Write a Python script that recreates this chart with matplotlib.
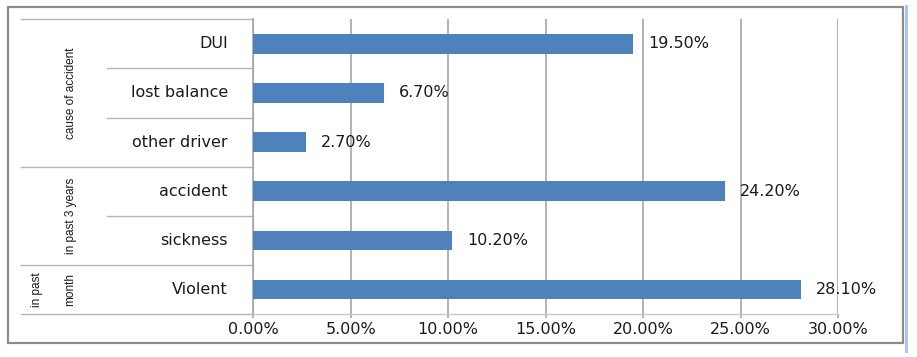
import matplotlib
matplotlib.use("Agg")
import matplotlib.pyplot as plt
from matplotlib.lines import Line2D
from matplotlib.patches import Rectangle
from matplotlib.transforms import blended_transform_factory

# ---- data ----
categories = ["DUI", "lost balance", "other driver", "accident", "sickness", "Violent"]
values = [19.5, 6.7, 2.7, 24.2, 10.2, 28.1]
groups = ["cause of accident", "in past 3 years", "in past\nmonth"]
group_sizes = [3, 2, 1]
xticks = [0, 5, 10, 15, 20, 25, 30]
xtick_labels = ["0.00%", "5.00%", "10.00%", "15.00%", "20.00%", "25.00%", "30.00%"]

W, H = 917, 357
fig = plt.figure(figsize=(W / 100, H / 100), dpi=100)
fig.patch.set_facecolor("white")

# plot area in pixels
x0, x1 = 253.3, 838.0
y_top, y_bot = 19.3, 314.0
ax = fig.add_axes([x0 / W, 1 - y_bot / H, (x1 - x0) / W, (y_bot - y_top) / H])

txt_color = "#1a1a1a"
grid_color = "#a6a6a6"
bar_color = "#4f81bd"
fs = 11.5

ypos = list(range(len(categories)))
ax.barh(ypos, values, height=0.4, color=bar_color, zorder=3)
ax.set_ylim(len(categories) - 0.5, -0.5)
ax.set_xlim(0, 30)
ax.set_xticks(xticks)
ax.set_xticklabels(xtick_labels, fontsize=fs, color=txt_color)
ax.set_yticks([])
ax.xaxis.grid(True, color=grid_color, linewidth=1.2, zorder=0)
ax.tick_params(axis="x", direction="out", length=3, color=grid_color, width=1.2, pad=3)
for s in ["top", "right"]:
    ax.spines[s].set_visible(False)
ax.spines["left"].set_color(grid_color)
ax.spines["left"].set_linewidth(1.2)
ax.spines["bottom"].set_color("#c8c8c8")
ax.spines["bottom"].set_linewidth(1.0)

# value labels
for yv, v in zip(ypos, values):
    ax.annotate(f"{v:.2f}%", xy=(v, yv), xytext=(11, 0), textcoords="offset points",
                va="center", ha="left", fontsize=fs, color=txt_color)

# category labels & multi-level axis
tr = blended_transform_factory(ax.transAxes, ax.transData)
axw = x1 - x0
def fx(px):
    return (px - x0) / axw

for yv, c in zip(ypos, categories):
    ax.text(fx(228), yv, c, transform=tr, ha="right", va="center",
            fontsize=fs, color=txt_color, clip_on=False)

line_kw = dict(color="#b4b4b4", linewidth=1.0, transform=tr, clip_on=False)
ax.add_line(Line2D([fx(21), 0], [-0.5, -0.5], **line_kw))
start = 0
for g, n in zip(groups, group_sizes):
    end = start + n
    # inner separators
    for k in range(start + 1, end):
        ax.add_line(Line2D([fx(107), 0], [k - 0.5, k - 0.5], **line_kw))
    ax.add_line(Line2D([fx(21), 0], [end - 0.5, end - 0.5], **line_kw))
    yc = (start + end - 1) / 2
    lines = g.split("\n")
    if len(lines) == 1:
        xs = [71]
    else:
        xs = [37, 70]
    for xl, t in zip(xs, lines):
        ax.text(fx(xl), yc, t, transform=tr, rotation=90, ha="center", va="center",
                fontsize=8.5, family=["Liberation Sans", "DejaVu Sans"],
                color=txt_color, clip_on=False)
    start = end

# outer chart frame
fig.add_artist(Rectangle((905 / W, 1 - 353 / H), 2.5 / W, 348 / H,
                         transform=fig.transFigure, facecolor="#a9c8e8",
                         edgecolor="none"))
fig.add_artist(Rectangle((7.5 / W, 1 - 342.5 / H), (902.5 - 7.5) / W, (342.5 - 6.5) / H,
                         transform=fig.transFigure, facecolor="none",
                         edgecolor="#8c8c8c", linewidth=1.6))

fig.savefig("out.png", dpi=100)
